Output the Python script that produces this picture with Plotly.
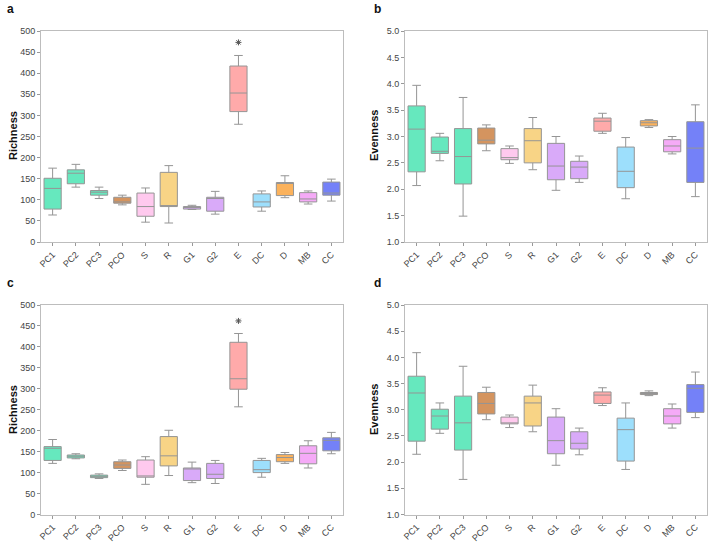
import plotly.graph_objects as go

cats = ["PC1", "PC2", "PC3", "PCO", "S", "R", "G1", "G2", "E", "DC", "D", "MB", "CC"]
colors = ["#66e8be", "#66e8be", "#66e8be", "#d4945f", "#ffc9ee", "#f8d486", "#d9aaf9",
          "#d9aaf9", "#ffaaaa", "#9ddffc", "#fbb25c", "#f5aaf7", "#7481f8"]

# Panel a - Richness
a_hi = [175, 184, 130, 111, 128, 181, 87, 120, 442, 121, 157, 121, 149]
a_q3 = [151, 171, 122, 106, 116, 165, 84, 106, 417, 114, 141, 117, 142]
a_med = [127, 163, 118, 95, 84, 86, 82, 103, 353, 95, 140, 102, 116]
a_q1 = [78, 138, 111, 92, 61, 84, 78, 73, 309, 83, 110, 95, 111]
a_lo = [64, 130, 103, 88, 47, 45, 77, 66, 279, 73, 105, 90, 97]
a_out_cat = ["E"]
a_out_val = [473]

# Panel b - Evenness
b_hi = [3.97, 3.06, 3.74, 3.22, 2.82, 3.36, 3.00, 2.63, 3.44, 2.98, 3.32, 3.00, 3.60]
b_q3 = [3.58, 2.99, 3.15, 3.16, 2.77, 3.15, 2.87, 2.53, 3.35, 2.80, 3.30, 2.94, 3.28]
b_med = [3.14, 2.72, 2.62, 2.93, 2.60, 2.92, 2.44, 2.42, 3.29, 2.34, 3.26, 2.82, 2.78]
b_q1 = [2.33, 2.68, 2.10, 2.86, 2.56, 2.50, 2.18, 2.20, 3.10, 2.03, 3.20, 2.71, 2.13]
b_lo = [2.07, 2.54, 1.49, 2.73, 2.49, 2.37, 1.98, 2.13, 3.06, 1.82, 3.17, 2.67, 1.86]

# Panel c - Richness
c_hi = [179, 145, 97, 130, 138, 201, 125, 129, 432, 134, 148, 176, 196]
c_q3 = [162, 142, 94, 126, 130, 186, 111, 122, 411, 129, 143, 164, 183]
c_med = [158, 139, 91, 118, 92, 140, 109, 96, 324, 107, 136, 146, 177]
c_q1 = [129, 135, 88, 110, 89, 116, 81, 86, 299, 100, 126, 121, 152]
c_lo = [122, 133, 86, 105, 72, 93, 76, 74, 257, 89, 122, 111, 145]
c_out_cat = ["E"]
c_out_val = [462]

# Panel d - Evenness
d_hi = [4.09, 3.13, 3.83, 3.43, 2.90, 3.47, 3.02, 2.65, 3.42, 3.13, 3.36, 3.11, 3.72]
d_q3 = [3.64, 3.01, 3.26, 3.33, 2.86, 3.26, 2.86, 2.58, 3.34, 2.84, 3.33, 3.02, 3.48]
d_med = [3.32, 2.88, 2.75, 3.12, 2.74, 3.13, 2.41, 2.36, 3.28, 2.62, 3.31, 2.88, 3.41]
d_q1 = [2.40, 2.63, 2.23, 2.92, 2.73, 2.69, 2.16, 2.25, 3.12, 2.02, 3.29, 2.73, 2.95]
d_lo = [2.15, 2.55, 1.67, 2.81, 2.66, 2.58, 1.94, 2.14, 3.08, 1.86, 3.27, 2.65, 2.85]

W, H = 708, 542
fig = go.Figure()

panels = [
    ("x", "y", a_lo, a_q1, a_med, a_q3, a_hi, a_out_cat, a_out_val),
    ("x2", "y2", b_lo, b_q1, b_med, b_q3, b_hi, [], []),
    ("x3", "y3", c_lo, c_q1, c_med, c_q3, c_hi, c_out_cat, c_out_val),
    ("x4", "y4", d_lo, d_q1, d_med, d_q3, d_hi, [], []),
]

for xa, ya, lo, q1, med, q3, hi, oc, ov in panels:
    for i, cat in enumerate(cats):
        fig.add_trace(go.Box(
            x=[cat], lowerfence=[lo[i]], q1=[q1[i]], median=[med[i]], q3=[q3[i]],
            upperfence=[hi[i]], fillcolor=colors[i],
            line=dict(color="#959595", width=1), width=0.74, whiskerwidth=0.5,
            boxpoints=False, showlegend=False, xaxis=xa, yaxis=ya, hoverinfo="skip"))
    if oc:
        fig.add_trace(go.Scatter(
            x=oc, y=ov, mode="markers", xaxis=xa, yaxis=ya, showlegend=False,
            hoverinfo="skip",
            marker=dict(symbol="asterisk-open", size=5, color="#555",
                        line=dict(color="#555", width=1))))

def px(v):
    return v / W

def py(v):
    return 1 - v / H

xl = [px(41), px(343)]
xr = [px(405), px(707)]
yt = [py(242), py(31)]
yb = [py(514.5), py(305)]

tickfont = dict(family="Liberation Sans, Arial", size=9, color="#444")
common_x = dict(type="category", categoryorder="array", categoryarray=cats,
                range=[-0.5, 12.5], tickangle=-45, showline=True, mirror=True,
                linecolor="#bdbdbd", linewidth=1, ticks="outside", ticklen=3,
                tickcolor="#999", tickfont=tickfont, showgrid=False, zeroline=False,
                automargin=False)
common_y = dict(showline=True, mirror=True, linecolor="#bdbdbd", linewidth=1,
                ticks="outside", ticklen=3, tickcolor="#999", tickfont=tickfont,
                showgrid=False, zeroline=False, automargin=False)

fig.update_layout(
    width=W, height=H, margin=dict(l=0, r=0, t=0, b=0, autoexpand=False),
    paper_bgcolor="white", plot_bgcolor="white", boxmode="overlay",
    xaxis=dict(domain=xl, anchor="y", **common_x),
    yaxis=dict(domain=yt, anchor="x", range=[0, 500], dtick=50, **common_y),
    xaxis2=dict(domain=xr, anchor="y2", **common_x),
    yaxis2=dict(domain=yt, anchor="x2", range=[1, 5], dtick=0.5, tickformat=".1f", **common_y),
    xaxis3=dict(domain=xl, anchor="y3", **common_x),
    yaxis3=dict(domain=yb, anchor="x3", range=[0, 500], dtick=50, **common_y),
    xaxis4=dict(domain=xr, anchor="y4", **common_x),
    yaxis4=dict(domain=yb, anchor="x4", range=[1, 5], dtick=0.5, tickformat=".1f", **common_y),
)

ann = []
for lab, x, y in [("a", 5, 9), ("b", 372, 9), ("c", 5, 283), ("d", 372, 283)]:
    ann.append(dict(text="<b>%s</b>" % lab, x=px(x), y=py(y), xref="paper", yref="paper",
                    xanchor="left", yanchor="middle", showarrow=False,
                    font=dict(family="Liberation Sans, Arial", size=12, color="#111")))
for lab, x, y in [("Richness", 13, 136), ("Evenness", 374, 136),
                  ("Richness", 13, 410), ("Evenness", 374, 410)]:
    ann.append(dict(text="<b>%s</b>" % lab, x=px(x), y=py(y), xref="paper", yref="paper",
                    xanchor="center", yanchor="middle", showarrow=False, textangle=-90,
                    font=dict(family="Liberation Sans, Arial", size=11, color="#111")))
fig.update_layout(annotations=ann)

fig.write_html("out.html", config={"displayModeBar": False},
               post_script="document.body.style.margin='0';document.body.style.overflow='hidden';")
